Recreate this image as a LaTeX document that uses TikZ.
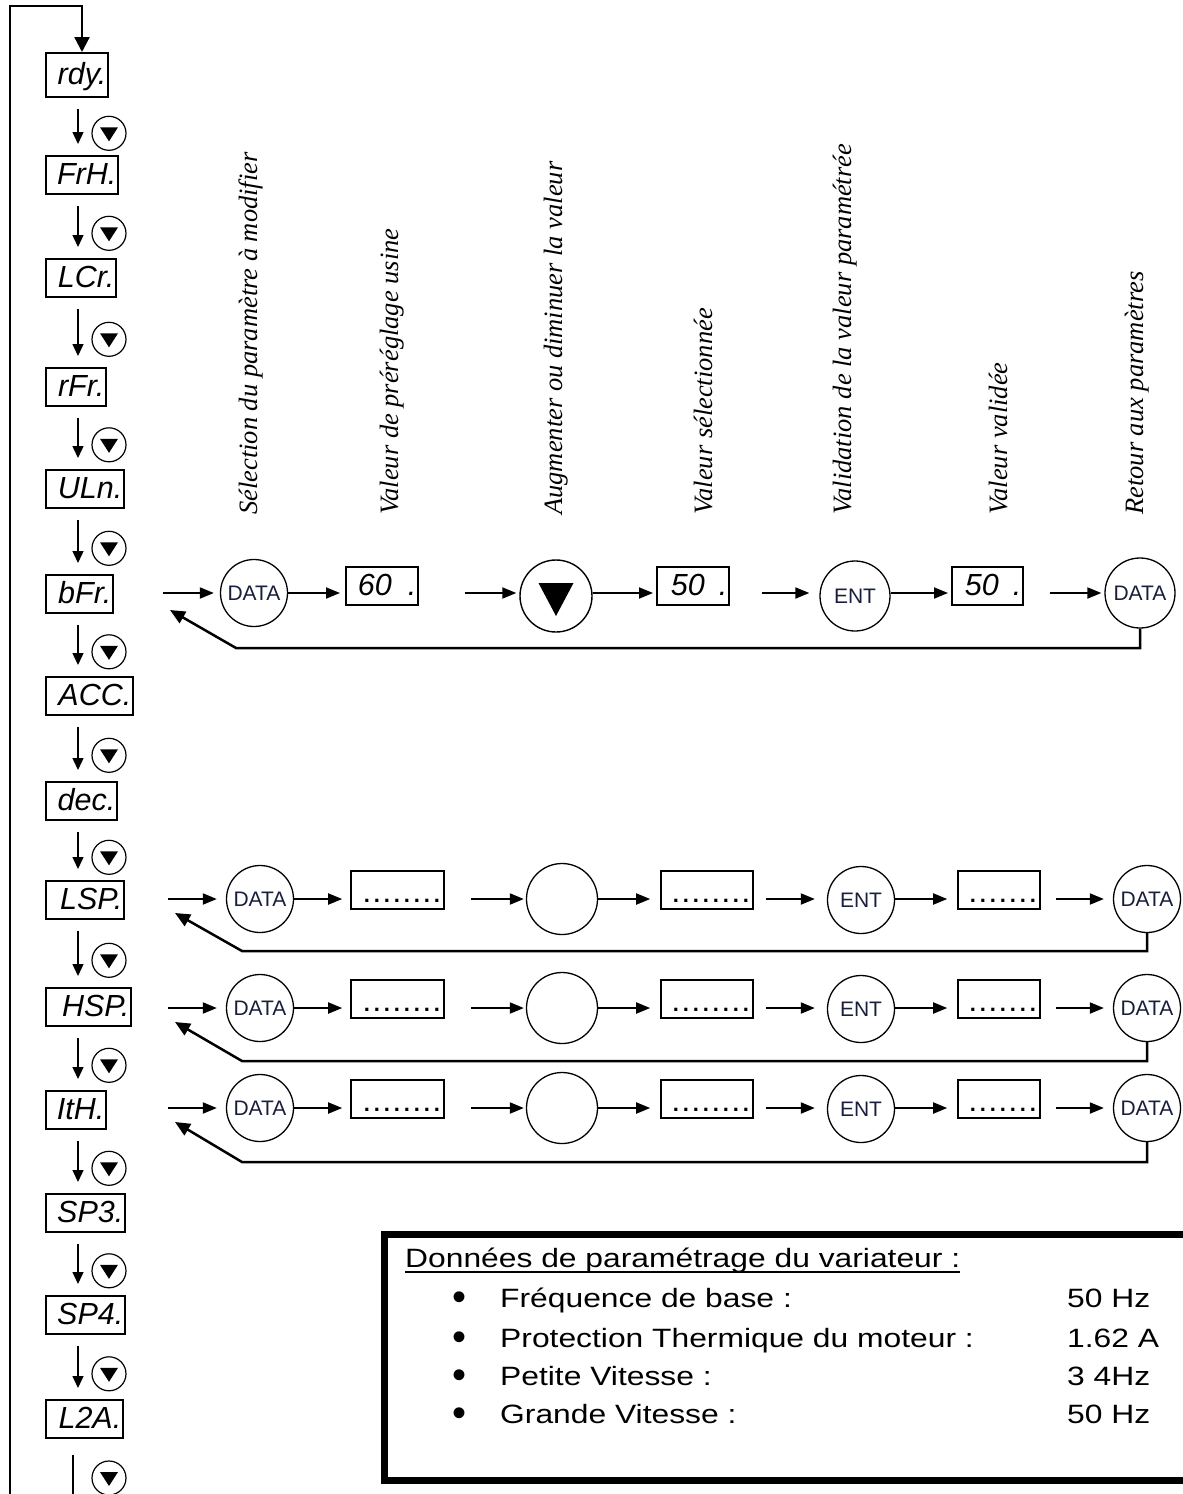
\documentclass[tikz,border=0pt]{standalone}
\usepackage{fontspec}
\usepackage{graphicx}
\setmainfont{Liberation Serif}
\newfontfamily\arial{Liberation Sans}
\usetikzlibrary{arrows.meta,calc}
\definecolor{datacol}{RGB}{25,30,60}
\newcommand\pfont{\arial\itshape\fontsize{30.5}{30.5}\selectfont}
\newcommand\bfnt{\arial\fontsize{21}{21}\selectfont}
\newcommand\dfnt{\arial\bfseries\fontsize{22}{22}\selectfont}
\newcommand\lfont{\itshape\fontsize{26.5}{26.5}\selectfont}
\newcommand\tfont{\arial\fontsize{26.5}{26.5}\selectfont}
\newcommand\wide[1]{\scalebox{1.2}[1]{#1}}
\newcommand\dotsviii{.\kern3.9pt.\kern3.9pt.\kern3.9pt.\kern3.9pt.\kern3.9pt.\kern3.9pt.\kern3.9pt.}
\newcommand\dotsvii{.\kern3.9pt.\kern3.9pt.\kern3.9pt.\kern3.9pt.\kern3.9pt.\kern3.9pt.}
\newcommand\pb[2]{\makebox[\dimexpr #1pt-3pt\relax][r]{#2}}
\begin{document}
\begin{tikzpicture}[x=1pt,y=-1pt,
  pbox/.style={draw, line width=1.6pt, anchor=north west, inner xsep=1.5pt, inner ysep=7pt,
     text height=22pt, text depth=2pt, font=\pfont},
  dbox/.style={draw, line width=1.6pt, minimum height=38pt, inner xsep=2pt, inner ysep=2pt,
     text height=29pt, text depth=5pt, font=\dfnt},
  dcirc/.style={circle, draw, line width=1.3pt, minimum size=67pt, inner sep=0pt, font=\bfnt, text=datacol},
  ecirc/.style={circle, draw, line width=1.3pt, minimum size=71pt, inner sep=0pt},
  vcirc/.style={circle, draw, line width=1.2pt, minimum size=34pt, inner sep=0pt,
     path picture={\fill ($(path picture bounding box.center)+(-9,-6)$) -- ++(18,0) -- ++(-9,14) -- cycle;}},
  bigv/.style={circle, draw, line width=1.4pt, minimum size=72pt, inner sep=0pt,
     path picture={\fill ($(path picture bounding box.center)+(-17.5,-13)$) -- ++(35,0) -- ++(-17.5,33) -- cycle;}},
  arr/.style={line width=1.9pt, -{Triangle[length=14pt,width=11pt]}},
  darr/.style={line width=1.4pt, -{Triangle[length=12pt,width=11pt]}},
  fbarr/.style={line width=2.5pt, -{Triangle[length=15pt,width=13pt]}},
  lab/.style={font=\lfont, rotate=90, anchor=base west, inner sep=0pt},
  txt/.style={font=\tfont, anchor=base west, inner sep=0pt}
]
\useasboundingbox (0,0) rectangle (1183,1494);
\clip (0,0) rectangle (1183,1494);

% ---------------- left column ----------------
\node[pbox, inner ysep=10pt] (rdy) at (45,52) {\pb{62}{rdy.}};
\node[pbox] (FrH) at (45,155) {\pb{72}{FrH.}};
\node[pbox] (LCr) at (45,258) {\pb{70}{LCr.}};
\node[pbox] (rFr) at (45,367) {\pb{60}{rFr.}};
\node[pbox] (ULn) at (45,469) {\pb{78}{ULn.}};
\node[pbox] (bFr) at (45,574) {\pb{67}{bFr.}};
\node[pbox] (ACC) at (45,676) {\pb{87}{ACC.}};
\node[pbox] (dec) at (45,781) {\pb{71}{dec.}};
\node[pbox] (LSP) at (45,880) {\pb{78}{LSP.}};
\node[pbox] (HSP) at (45,987) {\pb{85}{HSP.}};
\node[pbox] (ItH) at (45,1090) {\pb{60}{ItH.}};
\node[pbox] (SP3) at (45,1193) {\pb{79}{SP3.}};
\node[pbox] (SP4) at (45,1295) {\pb{79}{SP4.}};
\node[pbox] (L2A) at (45,1399) {\pb{77}{L2A.}};

\foreach \a/\b [count=\i] in {rdy/FrH, FrH/LCr, LCr/rFr, rFr/ULn, ULn/bFr, bFr/ACC, ACC/dec,
   dec/LSP, LSP/HSP, HSP/ItH, ItH/SP3, SP3/SP4, SP4/L2A} {
  \draw[darr] ($(\a.south west)+(33,11)$) -- ($(\b.north west)+(33,-11)$);
  \node[vcirc] (v\i) at ($(\a.south west)!0.5!(\b.north west)+(64,7)$) {};
}
\coordinate (colend) at (73,1500);
\draw[line width=1.9pt] ($(L2A.south west)+(28,16)$) -- (colend);
\node[vcirc] (v14) at (109,1478) {};

% top loop
\coordinate (loopend) at (10,1500);
\draw[line width=2.3pt, -{Triangle[length=15pt,width=15pt]}] (loopend) |- ($(rdy.north west)+(37,-46)$) -- ($(rdy.north west)+(37,0)$);

% ---------------- rotated labels ----------------
\node[lab] (l1) at (257,515) {Sélection du paramètre à modifier};
\node[lab] (l2) at (398,515) {Valeur de préréglage usine};
\node[lab] (l3) at (562,515) {Augmenter ou diminuer la valeur};
\node[lab] (l4) at (712,515) {Valeur sélectionnée};
\node[lab] (l5) at (851,515) {Validation de la valeur paramétrée};
\node[lab] (l6) at (1007,515) {Valeur validée};
\node[lab] (l7) at (1143,515) {Retour aux paramètres};

% ---------------- row 1 ----------------
\coordinate (r1in) at (163,593);
\node[dcirc] (r1d) at (254,593) {DATA};
\node[pbox] (r1b1) at (345,566) {\pb{72}{60\hspace{16pt}.}};
\node[bigv] (r1t) at (556,596) {};
\node[pbox] (r1b2) at (656,566) {\pb{72}{50\hspace{14pt}.}};
\node[dcirc, minimum size=70pt] (r1e) at (855,596) {ENT};
\node[pbox] (r1b3) at (951,566) {\pb{71}{50\hspace{14pt}.}};
\node[dcirc, minimum size=70pt] (r1d2) at (1140,593) {DATA};
\draw[arr, shorten >=6pt] (r1in) -- (r1d.west);
\draw[arr, shorten >=5pt] (r1d.east) -- (r1b1.west |- r1d);
\draw[arr, shorten >=3pt] ($(r1b1.east |- r1d)+(46,0)$) -- (r1t.west |- r1d);
\draw[arr, shorten >=3pt] (r1t.east |- r1d) -- (r1b2.west |- r1d);
\draw[arr, shorten >=10pt] ($(r1b2.east |- r1d)+(32,0)$) -- (r1e.west |- r1d);
\draw[arr, shorten >=3pt] (r1e.east |- r1d) -- (r1b3.west |- r1d);
\draw[arr, shorten >=3pt] ($(r1b3.east |- r1d)+(26,0)$) -- (r1d2.west);
\coordinate (r1fb) at (236,648);
\coordinate (r1tip) at (170,610);
\draw[fbarr] (r1d2.south) |- (r1fb) -- (r1tip);

% ---------------- rows 2 to 4 ----------------
\foreach \r/\y/\f in {2/899/951, 3/1008/1061, 4/1108/1162} {
  \coordinate (in\r) at (168,\y);
  \node[dcirc] (dl\r) at (260,\y) {DATA};
  \node[dbox, minimum width=93pt] (ba\r) at (397.5,\y-9) {\makebox[85pt][r]{\dotsviii}};
  \node[ecirc] (ec\r) at (562,\y) {};
  \node[dbox, minimum width=92pt] (bb\r) at (707,\y-9) {\makebox[84pt][r]{\dotsviii}};
  \node[dcirc] (en\r) at (861,\y+1) {ENT};
  \node[dbox, minimum width=82pt] (bc\r) at (999,\y-9) {\makebox[74pt][r]{\dotsvii}};
  \node[dcirc] (dr\r) at (1147,\y) {DATA};
  \draw[arr, shorten >=9pt] (in\r) -- (dl\r.west);
  \draw[arr, shorten >=8pt] (dl\r.east) -- (ba\r.west |- dl\r);
  \draw[arr, shorten >=2pt] ($(ba\r.east |- dl\r)+(26,0)$) -- (ec\r.west);
  \draw[arr, shorten >=10pt] (ec\r.east) -- (bb\r.west |- dl\r);
  \draw[arr, shorten >=12pt] ($(bb\r.east |- dl\r)+(12,0)$) -- (en\r.west |- dl\r);
  \draw[arr, shorten >=10pt] (en\r.east |- dl\r) -- (bc\r.west |- dl\r);
  \draw[arr, shorten >=9pt] ($(bc\r.east |- dl\r)+(15,0)$) -- (dr\r.west);
  \coordinate (fb\r) at (242,\f);
  \coordinate (tp\r) at (175,\y+14);
  \draw[fbarr] (dr\r.south) |- (fb\r) -- (tp\r);
}

% ---------------- data box ----------------
\node[draw, line width=6.5pt, anchor=north west, minimum width=900pt, minimum height=246pt, inner sep=0pt] (frame) at (381,1231) {};
\node[txt] (ttl) at (405,1267) {\wide{Données de paramétrage du variateur :}};
\draw[line width=1.8pt] ($(ttl.base west)+(0,5)$) -- ($(ttl.base east)+(0,5)$);
\foreach \t/\v/\yy [count=\k] in {Fréquence de base :/50 Hz/1307,
    Protection Thermique du moteur :/1.62 A/1347,
    Petite Vitesse :/3 4Hz/1385,
    Grande Vitesse :/50 Hz/1423} {
  \node[font=\arial\fontsize{40}{40}\selectfont, anchor=base, inner sep=0pt] (bu\k) at (459,\yy+3) {\textbullet};
  \node[txt] (it\k) at (500,\yy) {\wide{\t}};
  \node[txt] (va\k) at (1067,\yy) {\wide{\v}};
}
\end{tikzpicture}
\end{document}
